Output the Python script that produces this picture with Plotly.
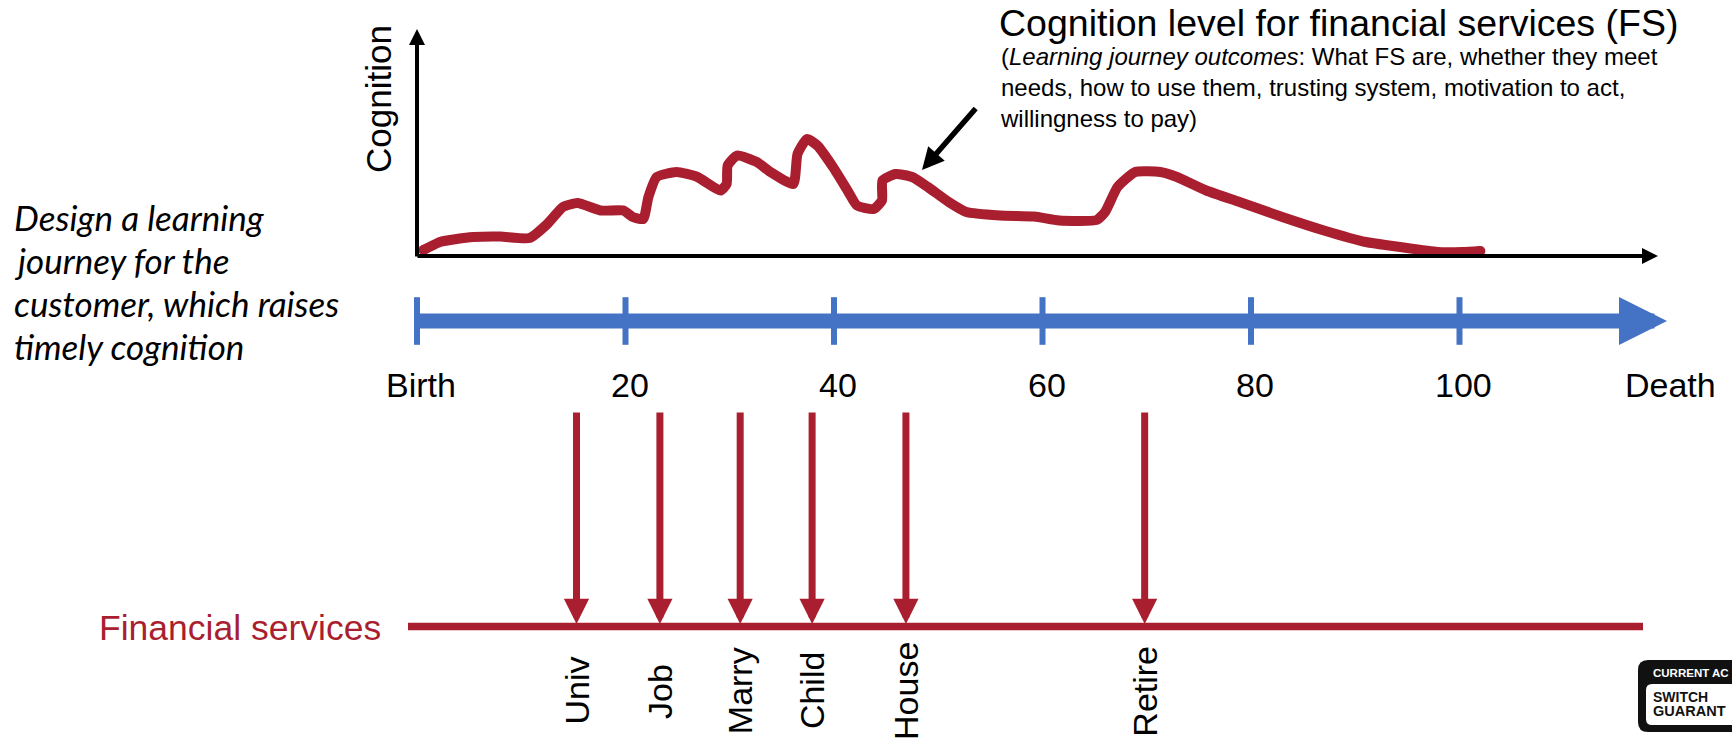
import plotly.graph_objects as go

# ---------------- data ----------------
curve_age = [0.6, 1.0, 2.2, 3.8, 5.4, 8.0, 10.8, 12.5, 14.0, 15.4, 17.6, 19.8, 20.7, 21.7,
             22.2, 23.0, 24.9, 26.9, 29.1, 29.7, 29.8, 30.7, 32.6, 33.9, 36.1, 36.5, 37.4,
             38.4, 39.9, 41.3, 42.2, 43.8, 44.6, 44.65, 45.9, 47.5, 49.0, 51.0, 52.7, 55.9,
             59.2, 61.6, 65.2, 66.0, 67.2, 68.9, 71.3, 72.9, 75.7, 78.9, 83.0, 87.0, 91.0,
             94.3, 97.9, 100.3, 102.0]
curve_cognition = [6, 8, 14, 17, 19, 19.5, 18, 32, 49, 53, 45.5, 45.5, 39, 37,
                   59, 79, 84, 79, 65.5, 72, 90.5, 100.5, 94, 84, 72, 102, 117,
                   110.5, 89, 65.5, 50.5, 47, 55.5, 75.5, 82, 79, 69, 54, 44, 40.5,
                   39.5, 35.5, 36, 44, 69, 84, 84, 79, 65.5, 54, 39, 25.5, 14,
                   9, 4, 4, 5]

timeline_ticks = [0, 20, 40, 60, 80, 100]
timeline_labels = ["Birth", "20", "40", "60", "80", "100"]
end_label = "Death"

event_ages = [15.3, 23.3, 31.0, 37.9, 46.9, 69.8]
event_labels = ["Univ", "Job", "Marry", "Child", "House", "Retire"]

title_text = "Cognition level for financial services (FS)"
subtitle_lines = ["(<i>Learning journey outcomes</i>: What FS are, whether they meet",
                  "needs, how to use them, trusting system, motivation to act,",
                  "willingness to pay)"]
side_lines = ["Design a learning", "journey for the", "customer, which raises", "timely cognition"]
y_axis_title = "Cognition"
fs_label = "Financial services"
logo_lines = ["CURRENT AC", "SWITCH", "GUARANT"]

# ---------------- layout geometry (pixels) ----------------
W, H = 1732, 748
X0_PX = 417          # age 0
PX_PER_YEAR = 10.425
BASE_PX = 256        # cognition baseline row

RED = "#AA1F30"
BLUE = "#4472C4"
BLACK = "#000000"
SANS = "Liberation Sans, Arial, sans-serif"


def age_at(px):
    return (px - X0_PX) / PX_PER_YEAR


def lvl(py):
    return BASE_PX - py


def pxp(px):
    return px / W


def pyp(py):
    return 1 - py / H


BLUE_ROW = 321
FS_ROW = 626.5

fig = go.Figure()

# cognition curve
fig.add_trace(go.Scatter(x=curve_age, y=curve_cognition, mode="lines",
                         line=dict(color=RED, width=10, shape="spline", smoothing=0.5),
                         hoverinfo="skip"))
fig.add_trace(go.Scatter(x=[curve_age[0], curve_age[-1]],
                         y=[curve_cognition[0], curve_cognition[-1]], mode="markers",
                         marker=dict(color=RED, size=10), hoverinfo="skip"))

# financial services line
fig.add_trace(go.Scatter(x=[age_at(408), age_at(1643)], y=[lvl(FS_ROW)] * 2, mode="lines",
                         line=dict(color=RED, width=7.5), hoverinfo="skip"))

annotations = []
# blue timeline arrow
annotations.append(dict(x=age_at(1667), y=lvl(BLUE_ROW), ax=0, ay=lvl(BLUE_ROW),
                        xref="x", yref="y", axref="x", ayref="y", text="", showarrow=True,
                        arrowhead=2, arrowwidth=15, arrowsize=0.64, arrowcolor=BLUE))
# blue ticks
fig.add_trace(go.Scatter(x=timeline_ticks, y=[lvl(BLUE_ROW)] * len(timeline_ticks),
                         mode="markers",
                         marker=dict(symbol="line-ns", size=34,
                                     line=dict(color=BLUE, width=6)),
                         hoverinfo="skip"))

# cognition axes arrows
annotations.append(dict(x=0, y=lvl(29), ax=0, ay=lvl(258), xref="x", yref="y",
                        axref="x", ayref="y", text="", showarrow=True, arrowhead=2,
                        arrowwidth=4, arrowsize=0.8, arrowcolor=BLACK))
annotations.append(dict(x=age_at(1658), y=0, ax=age_at(416), ay=0, xref="x", yref="y",
                        axref="x", ayref="y", text="", showarrow=True, arrowhead=2,
                        arrowwidth=4, arrowsize=0.8, arrowcolor=BLACK))
# pointer arrow to curve
annotations.append(dict(x=age_at(922), y=lvl(170), ax=age_at(977), ay=lvl(107),
                        xref="x", yref="y", axref="x", ayref="y", text="", showarrow=True,
                        arrowhead=2, arrowwidth=5.5, arrowsize=0.8, arrowcolor=BLACK))

# event arrows + labels
for a, lab in zip(event_ages, event_labels):
    annotations.append(dict(x=a, y=lvl(624), ax=a, ay=lvl(411), xref="x", yref="y",
                            axref="x", ayref="y", text="", showarrow=True, arrowhead=2,
                            arrowwidth=7, arrowsize=0.72, arrowcolor=RED))
    annotations.append(dict(x=a, y=lvl(691), xref="x", yref="y", text=lab,
                            showarrow=False, textangle=-90, xanchor="center",
                            yanchor="middle", font=dict(family=SANS, size=34, color=BLACK)))

# timeline labels
for t, lab in zip(timeline_ticks, timeline_labels):
    annotations.append(dict(x=t, y=lvl(385), xref="x", yref="y", text=lab, xshift=4,
                            showarrow=False, xanchor="center", yanchor="middle",
                            font=dict(family=SANS, size=34, color=BLACK)))
annotations.append(dict(x=age_at(1670), y=lvl(385), xref="x", yref="y", text=end_label,
                        showarrow=False, xanchor="center", yanchor="middle",
                        font=dict(family=SANS, size=34, color=BLACK)))

# titles / texts
annotations.append(dict(x=pxp(997), y=pyp(23), xref="paper", yref="paper", text=title_text,
                        showarrow=False, xanchor="left", yanchor="middle",
                        font=dict(family=SANS, size=37.5, color=BLACK)))
annotations.append(dict(x=pxp(998), y=pyp(41), xref="paper", yref="paper",
                        text="<br>".join(subtitle_lines), align="left",
                        showarrow=False, xanchor="left", yanchor="top",
                        font=dict(family=SANS, size=24, color=BLACK)))
annotations.append(dict(x=pxp(379), y=pyp(99), xref="paper", yref="paper", text=y_axis_title,
                        showarrow=False, textangle=-90, xanchor="center", yanchor="middle",
                        font=dict(family=SANS, size=35, color=BLACK)))
annotations.append(dict(x=pxp(383), y=pyp(628), xref="paper", yref="paper", text=fs_label,
                        showarrow=False, xanchor="right", yanchor="middle",
                        font=dict(family=SANS, size=35.5, color=RED)))
for i, line in enumerate(side_lines):
    annotations.append(dict(x=pxp(12), y=pyp(217 + 43.0 * i), xref="paper", yref="paper",
                            text="<i>" + line + "</i>", showarrow=False, xanchor="left",
                            yanchor="middle",
                            font=dict(family="Lato, Carlito, sans-serif", size=35,
                                      color=BLACK)))

# logo (decorative badge, partially off-canvas)
def rrect(x0, y0, x1, y1, r):
    pts = (f"M{pxp(x0 + r)},{pyp(y0)} L{pxp(x1)},{pyp(y0)} L{pxp(x1)},{pyp(y1)} "
           f"L{pxp(x0 + r)},{pyp(y1)} Q{pxp(x0)},{pyp(y1)} {pxp(x0)},{pyp(y1 - r)} "
           f"L{pxp(x0)},{pyp(y0 + r)} Q{pxp(x0)},{pyp(y0)} {pxp(x0 + r)},{pyp(y0)} Z")
    return pts


shapes = [
    dict(type="path", xref="paper", yref="paper", path=rrect(1638, 660, 1760, 732, 10),
         fillcolor="#111111", line=dict(width=0)),
    dict(type="path", xref="paper", yref="paper", path=rrect(1646, 684, 1760, 725, 6),
         fillcolor="#FFFFFF", line=dict(width=0)),
]
NARROW = "Liberation Sans Narrow, Arial Narrow, Liberation Sans, sans-serif"
annotations.append(dict(x=pxp(1651), y=pyp(673), xref="paper", yref="paper",
                        text="<b>" + logo_lines[0] + "</b>", showarrow=False,
                        xanchor="left", yanchor="middle",
                        font=dict(family=NARROW, size=11.5, color="#FFFFFF")))
annotations.append(dict(x=pxp(1651), y=pyp(697), xref="paper", yref="paper",
                        text="<b>" + logo_lines[1] + "</b>", showarrow=False,
                        xanchor="left", yanchor="middle",
                        font=dict(family=NARROW, size=14, color="#111111")))
annotations.append(dict(x=pxp(1651), y=pyp(711), xref="paper", yref="paper",
                        text="<b>" + logo_lines[2] + "</b>", showarrow=False,
                        xanchor="left", yanchor="middle",
                        font=dict(family=NARROW, size=14.5, color="#111111")))

fig.update_layout(
    width=W, height=H, autosize=False,
    margin=dict(l=0, r=0, t=0, b=0, pad=0),
    paper_bgcolor="white", plot_bgcolor="white",
    showlegend=False,
    xaxis=dict(range=[age_at(0), age_at(W)], visible=False, fixedrange=True),
    yaxis=dict(range=[lvl(H), lvl(0)], visible=False, fixedrange=True),
    annotations=annotations,
    shapes=shapes,
)

fig.write_html("out.html", config={"displayModeBar": False},
               post_script="document.body.style.margin='0';document.body.style.overflow='hidden';")
